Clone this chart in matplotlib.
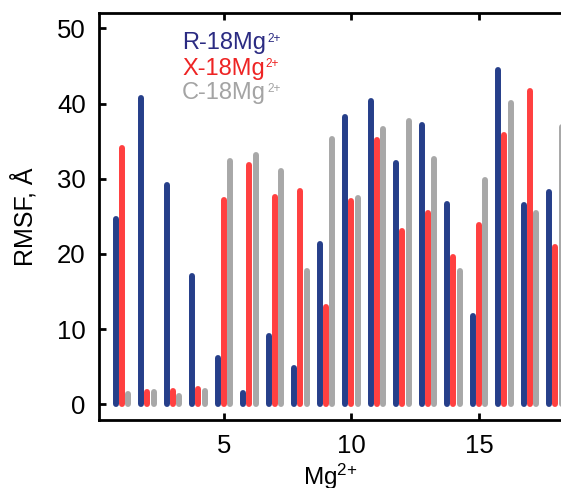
import matplotlib
matplotlib.use("Agg")
import matplotlib.pyplot as plt
import numpy as np

plt.rcParams['font.family'] = ['Liberation Sans', 'DejaVu Sans']
plt.rcParams['mathtext.fontset'] = 'custom'
plt.rcParams['mathtext.rm'] = 'Liberation Sans'
plt.rcParams['mathtext.it'] = 'Liberation Sans:italic'
plt.rcParams['mathtext.default'] = 'rm'

ions = list(range(1, 19))
rmsf_R = [24.6, 40.8, 29.2, 17.1, 6.1, 1.5, 9.1, 4.8, 21.3, 38.2, 40.3, 32.1, 37.2, 26.7, 11.7, 44.5, 26.5, 28.2]
rmsf_X = [34.1, 1.6, 1.8, 2.1, 27.2, 31.8, 27.6, 28.4, 13.0, 27.1, 35.2, 23.0, 25.5, 19.6, 23.8, 35.8, 41.7, 20.9]
rmsf_C = [1.4, 1.6, 1.1, 1.8, 32.4, 33.2, 31.1, 17.7, 35.3, 27.4, 36.6, 37.7, 32.7, 17.7, 29.9, 40.1, 25.4, 36.9]
series_names = ['R-18Mg', 'X-18Mg', 'C-18Mg']
sup = '2+'
colors = ['#263f8a', '#ff4040', '#a8a8a8']
text_colors = ['#2b2b82', '#ee2424', '#a4a4a4']

W, H = 561, 488
fig = plt.figure(figsize=(W/100, H/100), dpi=100)
x0, x1 = 0.1, 19.0
ppu = 25.5
ax = fig.add_axes([99/W, 1-420/H, (x1-x0)*ppu/W, (420-13)/H])

x = np.array(ions, dtype=float)
offsets = [-0.25, 0.0, 0.25]
for vals, off, c in zip([rmsf_R, rmsf_X, rmsf_C], offsets, colors):
    lc = ax.vlines(x + off, 0, vals, colors=c, linewidth=4.3)
    lc.set_capstyle('round')

ax.set_xlim(x0, x1)
ax.set_ylim(-2.09, 52.06)
ax.set_xticks([5, 10, 15])
ax.set_yticks([0, 10, 20, 30, 40, 50])
ax.tick_params(direction='in', length=5, width=2, labelsize=18.5,
               top=True, right=False)
ax.tick_params(axis='x', pad=10)
ax.tick_params(axis='y', pad=9.5)
for s in ['left', 'bottom', 'top']:
    ax.spines[s].set_linewidth(2)
ax.spines['right'].set_visible(False)

ax.set_xlabel('Mg$^{2{+}}$', fontsize=17.5, labelpad=3)
ax.xaxis.label.set_x((330-99)/((x1-x0)*ppu))
ax.set_ylabel('RMSF, Å', fontsize=18, labelpad=14)

renderer = fig.canvas.get_renderer()
ys = [49.5, 74.5, 99.5]
for lab, tc, yb in zip(series_names, text_colors, ys):
    t = fig.text(182/W, 1-yb/H, lab, color=tc, fontsize=17, va='baseline', ha='left')
    bb = t.get_window_extent(renderer)
    fig.text((bb.x1 + 1)/W, 1-(yb-7.5)/H, sup, color=tc, fontsize=8.5,
             va='baseline', ha='left')

fig.savefig('out.png', dpi=100)
